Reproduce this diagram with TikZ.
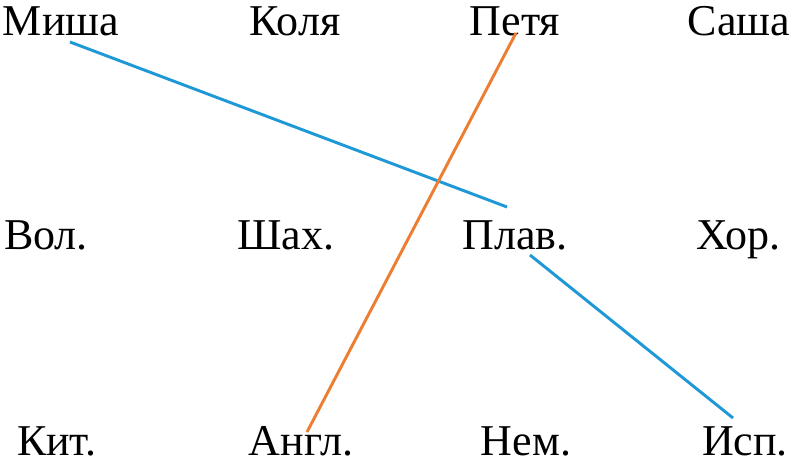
\documentclass[tikz,border=0pt]{standalone}
\usepackage{fontspec}
\setmainfont{Liberation Serif}
\definecolor{linkblue}{RGB}{30,152,215}
\definecolor{linkorange}{RGB}{237,125,49}
\begin{document}
\begin{tikzpicture}[x=0.75pt,y=-0.75pt,
  word/.style={anchor=base,inner sep=0pt,font=\fontsize{33}{36}\selectfont},
  link/.style={line width=2.2pt}]
\useasboundingbox (0,0) rectangle (802,464);
% names
\node[word](misha) at (61,36){Миша};
\node[word](kolya) at (295,36){Коля};
\node[word](petya) at (515,36){Петя};
\node[word](sasha) at (739,36){Саша};
% hobbies
\node[word](vol) at (46,249){Вол.};
\node[word](shah) at (286,249){Шах.};
\node[word](plav) at (515,249){Плав.};
\node[word](hor) at (738,249){Хор.};
% languages
\node[word](kit) at (57,455){Кит.};
\node[word](angl) at (301,455){Англ.};
\node[word](nem) at (526,455){Нем.};
\node[word](isp) at (745,455){Исп.};
\draw[link, linkblue]([shift={(9,6)}]misha.base)--([shift={(-8,-42)}]plav.base);
\draw[link, linkblue]([shift={(15,6)}]plav.base)--([shift={(-12,-37)}]isp.base);
\draw[link, linkorange]([shift={(1,-3)}]petya.base)--([shift={(6,-23)}]angl.base);
\end{tikzpicture}
\end{document}
